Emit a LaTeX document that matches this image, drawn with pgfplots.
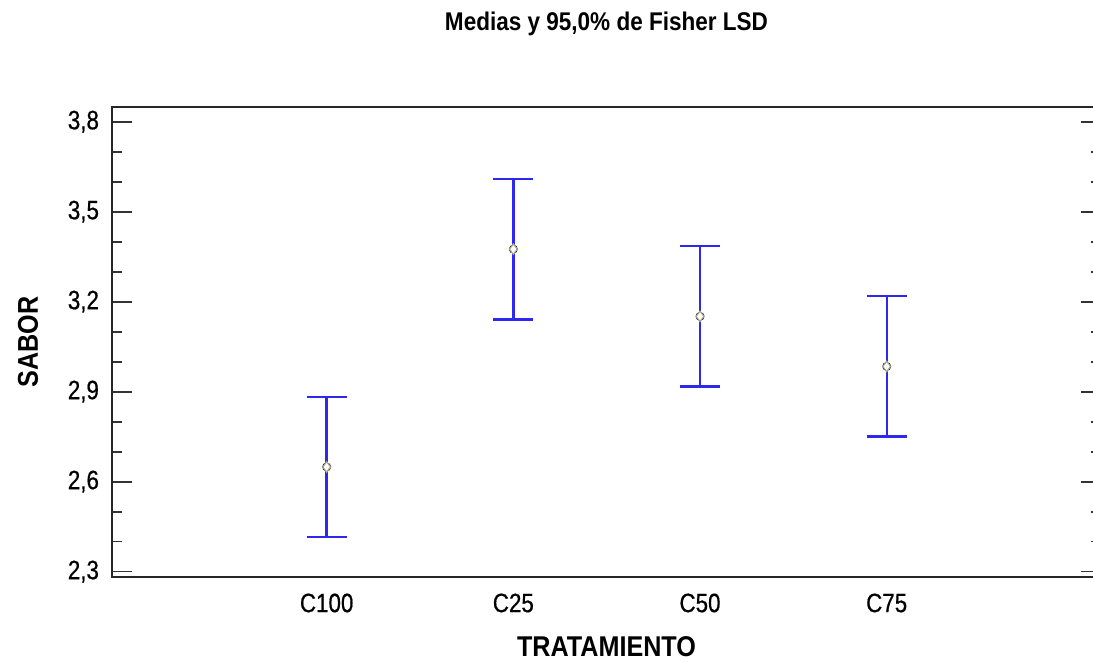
\documentclass[border=0pt]{standalone}
\usepackage{fontspec}
\setmainfont[FakeStretch=0.88]{Liberation Sans}
\newfontfamily\tickfont[FakeStretch=0.84, FakeBold=0.6]{Liberation Sans}
\usepackage{pgfplots}
\usepackage{pgfplotstable}
\pgfplotsset{compat=1.18}
\definecolor{barblue}{RGB}{45,40,240}
\definecolor{meangray}{RGB}{165,165,140}
\pgfplotstableread{
x mean err
1 2.649 0.233
2 3.375 0.234
3 3.151 0.234
4 2.984 0.234
}\datatab
\begin{document}
\begin{tikzpicture}[x=1pt,y=1pt]
\useasboundingbox (0,0) rectangle (546.5,331);
\begin{axis}[
  at={(56pt,42.5pt)}, anchor=south west,
  scale only axis, width=494.5pt, height=235pt,
  xmin=-0.15, xmax=5.148,
  ymin=2.282, ymax=3.849,
  xtick={1,2,3,4},
  xticklabels={C100,C25,C50,C75},
  x tick style={draw=none},
  ytick={2.3,2.6,2.9,3.2,3.5,3.8},
  minor y tick num=2,
  tick align=inside,
  major tick length=10pt,
  minor tick length=5pt,
  y tick style={line width=0.9pt, black!80},
  axis line style={line width=1pt, black!85},
  /pgf/number format/fixed,
  /pgf/number format/fixed zerofill,
  /pgf/number format/precision=1,
  /pgf/number format/use comma,
  /pgf/number format/assume math mode=true,
  yticklabel style={font=\tickfont\fontsize{13.3}{15}\selectfont, xshift=-3pt},
  xticklabel style={font=\tickfont\fontsize{13.3}{15}\selectfont, anchor=center, yshift=-13pt},
  title={Medias y 95,0\% de Fisher LSD},
  title style={font=\fontsize{12.8}{14}\selectfont\bfseries, at={(axis description cs:0.5,1.151)}, anchor=center},
  xlabel={TRATAMIENTO},
  xlabel style={font=\fontsize{14.3}{16}\selectfont\bfseries, at={(axis description cs:0.5,-0.149)}, anchor=center},
  ylabel={SABOR},
  ylabel style={font=\fontsize{14.3}{16}\selectfont\bfseries, at={(axis description cs:-0.0849,0.5)}, anchor=center},
]
\addplot[only marks, draw=none, mark=none,
  error bars/.cd, y dir=both, y explicit, error mark=|,
  error bar style={barblue, line width=1.2pt},
  error mark options={barblue, line width=1.2pt, mark size=10pt}]
  table[x=x, y=mean, y error=err] {\datatab};
\addplot[only marks, mark=diamond*, mark size=2.6pt, mark options={draw=meangray, fill=white, line width=0.6pt}]
  table[x=x, y=mean] {\datatab};
\end{axis}
\end{tikzpicture}
\end{document}
